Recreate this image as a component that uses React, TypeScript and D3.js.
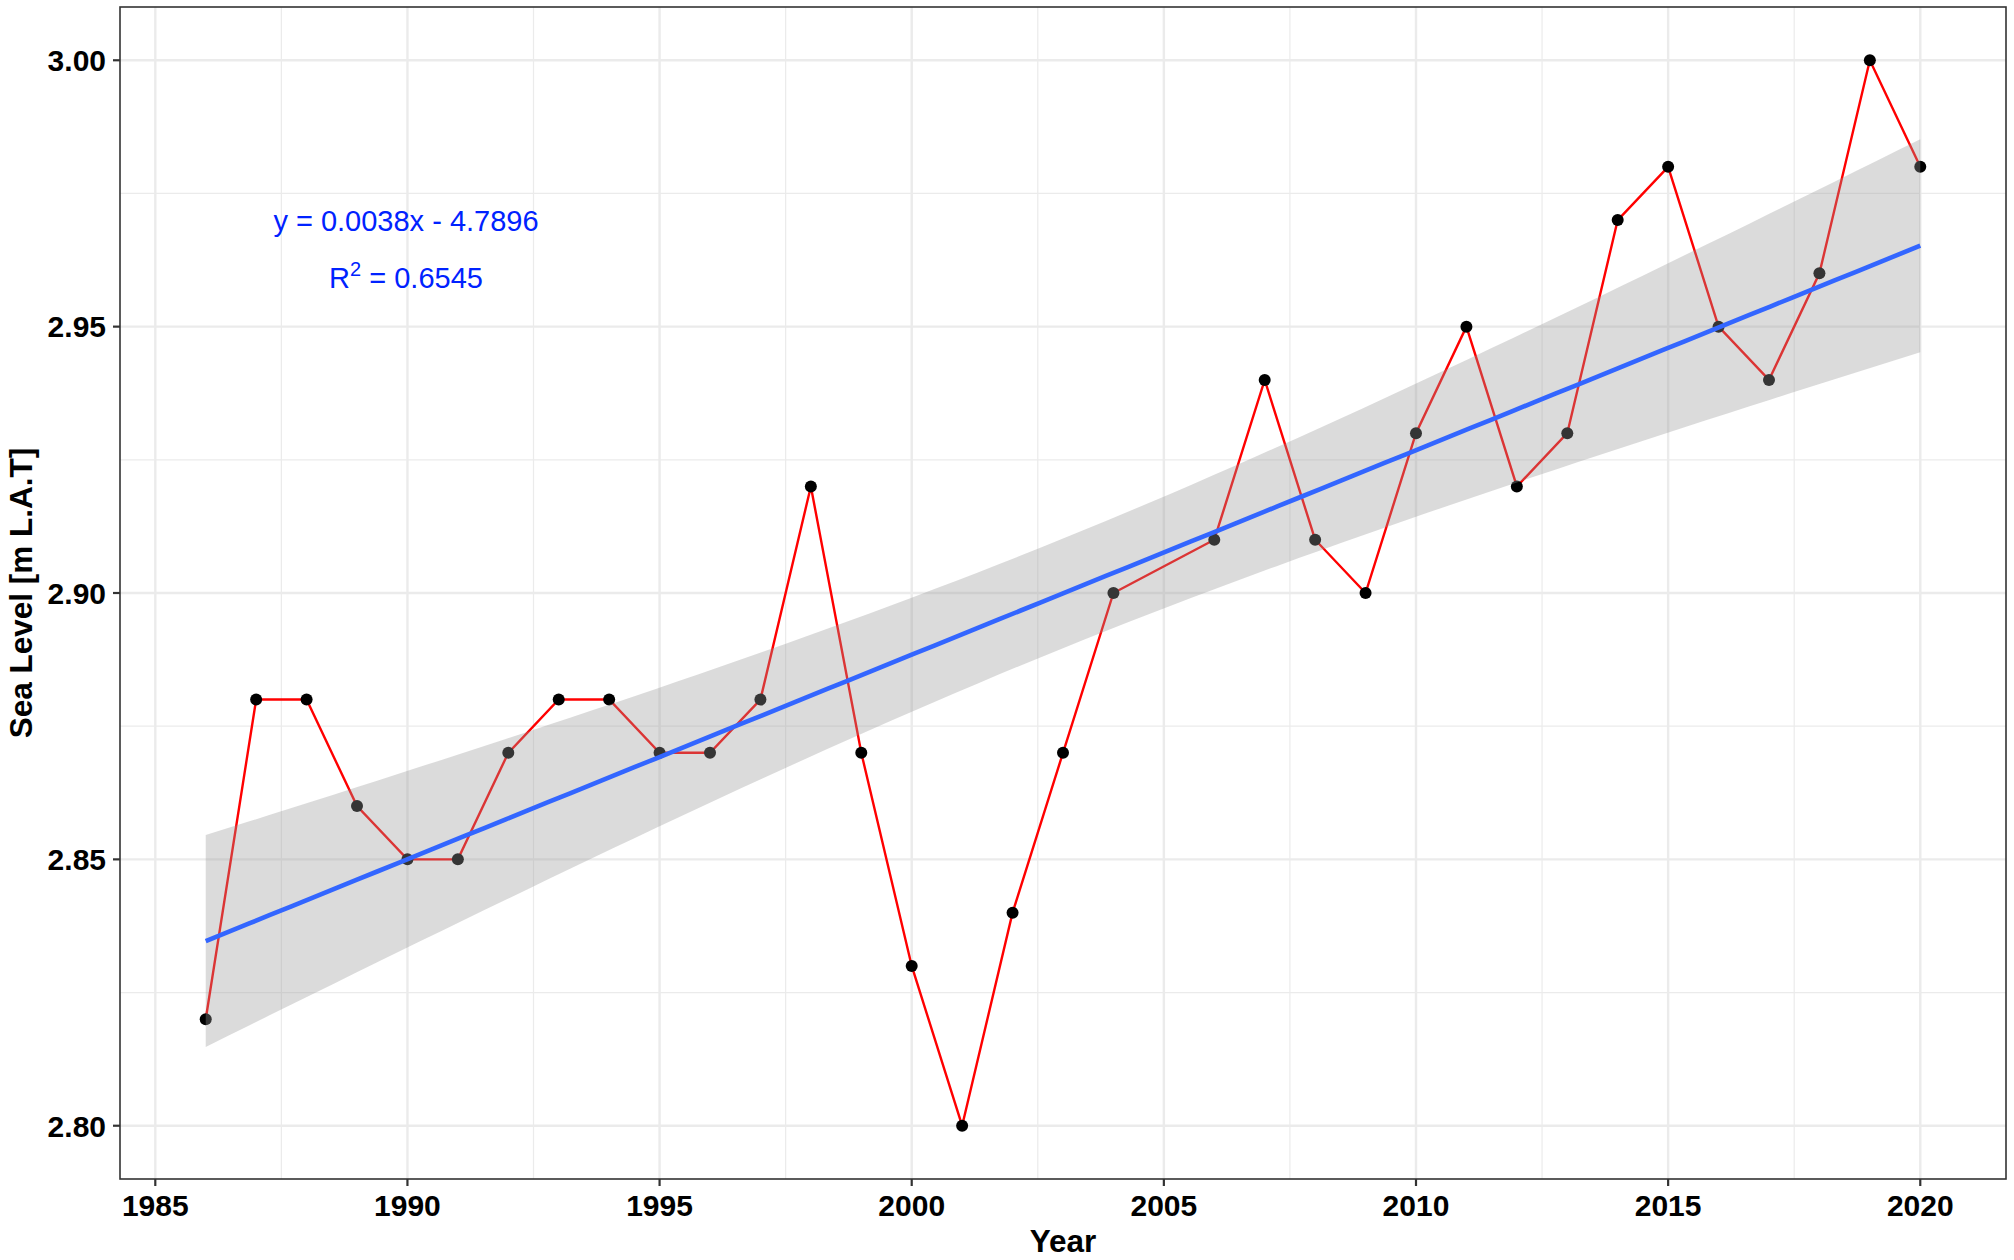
import * as d3 from "d3";

const width = 2014;
const height = 1260;
const margin = { top: 7, right: 8, bottom: 81, left: 120 };

// annual mean sea level, 2005 has no record
const years = [
  1986, 1987, 1988, 1989, 1990, 1991, 1992, 1993, 1994, 1995, 1996, 1997, 1998,
  1999, 2000, 2001, 2002, 2003, 2004, 2006, 2007, 2008, 2009, 2010, 2011, 2012,
  2013, 2014, 2015, 2016, 2017, 2018, 2019, 2020,
];
const seaLevel = [
  2.82, 2.88, 2.88, 2.86, 2.85, 2.85, 2.87, 2.88, 2.88, 2.87, 2.87, 2.88, 2.92,
  2.87, 2.83, 2.8, 2.84, 2.87, 2.9, 2.91, 2.94, 2.91, 2.9, 2.93, 2.95, 2.92,
  2.93, 2.97, 2.98, 2.95, 2.94, 2.96, 3.0, 2.98,
];
const xTicks = [1985, 1990, 1995, 2000, 2005, 2010, 2015, 2020];
const xMinor = [1987.5, 1992.5, 1997.5, 2002.5, 2007.5, 2012.5, 2017.5];
const yTicks = [2.8, 2.85, 2.9, 2.95, 3.0];
const yMinor = [2.825, 2.875, 2.925, 2.975];
const equation = "y = 0.0038x - 4.7896";
const rSquared = "0.6545";

const font = "'Liberation Sans', Arial, Helvetica, sans-serif";

const App = () => {
  const x0 = margin.left;
  const x1 = width - margin.right;
  const y0 = margin.top;
  const y1 = height - margin.bottom;

  const data = years.map((yr, i) => ({ year: yr, level: seaLevel[i] }));

  const [xMin, xMax] = d3.extent(years) as [number, number];
  const [yMin, yMax] = d3.extent(seaLevel) as [number, number];
  const xPad = (xMax - xMin) * 0.05;
  const yPad = (yMax - yMin) * 0.05;

  const xScale = d3.scaleLinear().domain([xMin - xPad, xMax + xPad]).range([x0, x1]);
  const yScale = d3.scaleLinear().domain([yMin - yPad, yMax + yPad]).range([y1, y0]);

  // least squares fit + 95% confidence band (like geom_smooth(method = "lm"))
  const n = data.length;
  const mx = d3.mean(years)!;
  const my = d3.mean(seaLevel)!;
  const sxx = d3.sum(years, (v) => (v - mx) ** 2);
  const sxy = d3.sum(data, (d) => (d.year - mx) * (d.level - my));
  const slope = sxy / sxx;
  const intercept = my - slope * mx;
  const sse = d3.sum(data, (d) => (d.level - (intercept + slope * d.year)) ** 2);
  const s = Math.sqrt(sse / (n - 2));
  const tCrit = 2.0369; // qt(0.975, 32)

  const fitX = d3.range(0, 81).map((i) => xMin + ((xMax - xMin) * i) / 80);
  const fit = fitX.map((xv) => {
    const yhat = intercept + slope * xv;
    const se = s * Math.sqrt(1 / n + (xv - mx) ** 2 / sxx);
    return { x: xv, y: yhat, lo: yhat - tCrit * se, hi: yhat + tCrit * se };
  });

  const line = d3
    .line<{ year: number; level: number }>()
    .x((d) => xScale(d.year))
    .y((d) => yScale(d.level));

  const band = d3
    .area<{ x: number; lo: number; hi: number }>()
    .x((d) => xScale(d.x))
    .y0((d) => yScale(d.lo))
    .y1((d) => yScale(d.hi));

  const fitLine = d3
    .line<{ x: number; y: number }>()
    .x((d) => xScale(d.x))
    .y((d) => yScale(d.y));

  return (
    <div style={{ position: "absolute", left: 0, top: 0 }}>
      <svg width={width} height={height} style={{ display: "block", background: "#fff" }}>
        <rect x={0} y={0} width={width} height={height} fill="#fff" />

        {/* grid */}
        {yMinor.map((t) => (
          <line key={"ym" + t} x1={x0} x2={x1} y1={yScale(t)} y2={yScale(t)} stroke="#EBEBEB" strokeWidth={1.2} />
        ))}
        {xMinor.map((t) => (
          <line key={"xm" + t} x1={xScale(t)} x2={xScale(t)} y1={y0} y2={y1} stroke="#EBEBEB" strokeWidth={1.2} />
        ))}
        {yTicks.map((t) => (
          <line key={"yg" + t} x1={x0} x2={x1} y1={yScale(t)} y2={yScale(t)} stroke="#EBEBEB" strokeWidth={2.4} />
        ))}
        {xTicks.map((t) => (
          <line key={"xg" + t} x1={xScale(t)} x2={xScale(t)} y1={y0} y2={y1} stroke="#EBEBEB" strokeWidth={2.4} />
        ))}

        {/* observed series */}
        <path d={line(data)!} fill="none" stroke="#FF0000" strokeWidth={2.4} />
        {data.map((d) => (
          <circle key={d.year} cx={xScale(d.year)} cy={yScale(d.level)} r={6} fill="#000" />
        ))}

        {/* regression */}
        <path d={band(fit)!} fill="#999999" fillOpacity={0.35} />
        <path d={fitLine(fit)!} fill="none" stroke="#3366FF" strokeWidth={4.6} />

        {/* equation */}
        <text x={406} y={231} textAnchor="middle" fill="#0022FF" fontFamily={font} fontSize={29}>
          {equation}
        </text>
        <text x={406} y={288} textAnchor="middle" fill="#0022FF" fontFamily={font} fontSize={29}>
          R
          <tspan fontSize={20} dy={-12}>2</tspan>
          <tspan dy={12}>{" = " + rSquared}</tspan>
        </text>

        {/* panel border */}
        <rect x={x0} y={y0} width={x1 - x0} height={y1 - y0} fill="none" stroke="#333333" strokeWidth={1.6} />

        {/* axes */}
        {yTicks.map((t) => (
          <g key={"yt" + t}>
            <line x1={x0 - 7} x2={x0} y1={yScale(t)} y2={yScale(t)} stroke="#333333" strokeWidth={2.2} />
            <text x={x0 - 14} y={yScale(t)} dy="0.36em" textAnchor="end" fontFamily={font} fontWeight="bold" fontSize={30} fill="#000">
              {d3.format(".2f")(t)}
            </text>
          </g>
        ))}
        {xTicks.map((t) => (
          <g key={"xt" + t}>
            <line x1={xScale(t)} x2={xScale(t)} y1={y1} y2={y1 + 7} stroke="#333333" strokeWidth={2.2} />
            <text x={xScale(t)} y={y1 + 37} textAnchor="middle" fontFamily={font} fontWeight="bold" fontSize={30} fill="#000">
              {t}
            </text>
          </g>
        ))}

        <text x={(x0 + x1) / 2} y={1252} textAnchor="middle" fontFamily={font} fontWeight="bold" fontSize={31.5} fill="#000">
          Year
        </text>
        <text
          transform={`translate(32, ${(y0 + y1) / 2}) rotate(-90)`}
          textAnchor="middle"
          fontFamily={font}
          fontWeight="bold"
          fontSize={31.5}
          fill="#000"
        >
          Sea Level [m L.A.T]
        </text>
      </svg>
    </div>
  );
};

export default App;
